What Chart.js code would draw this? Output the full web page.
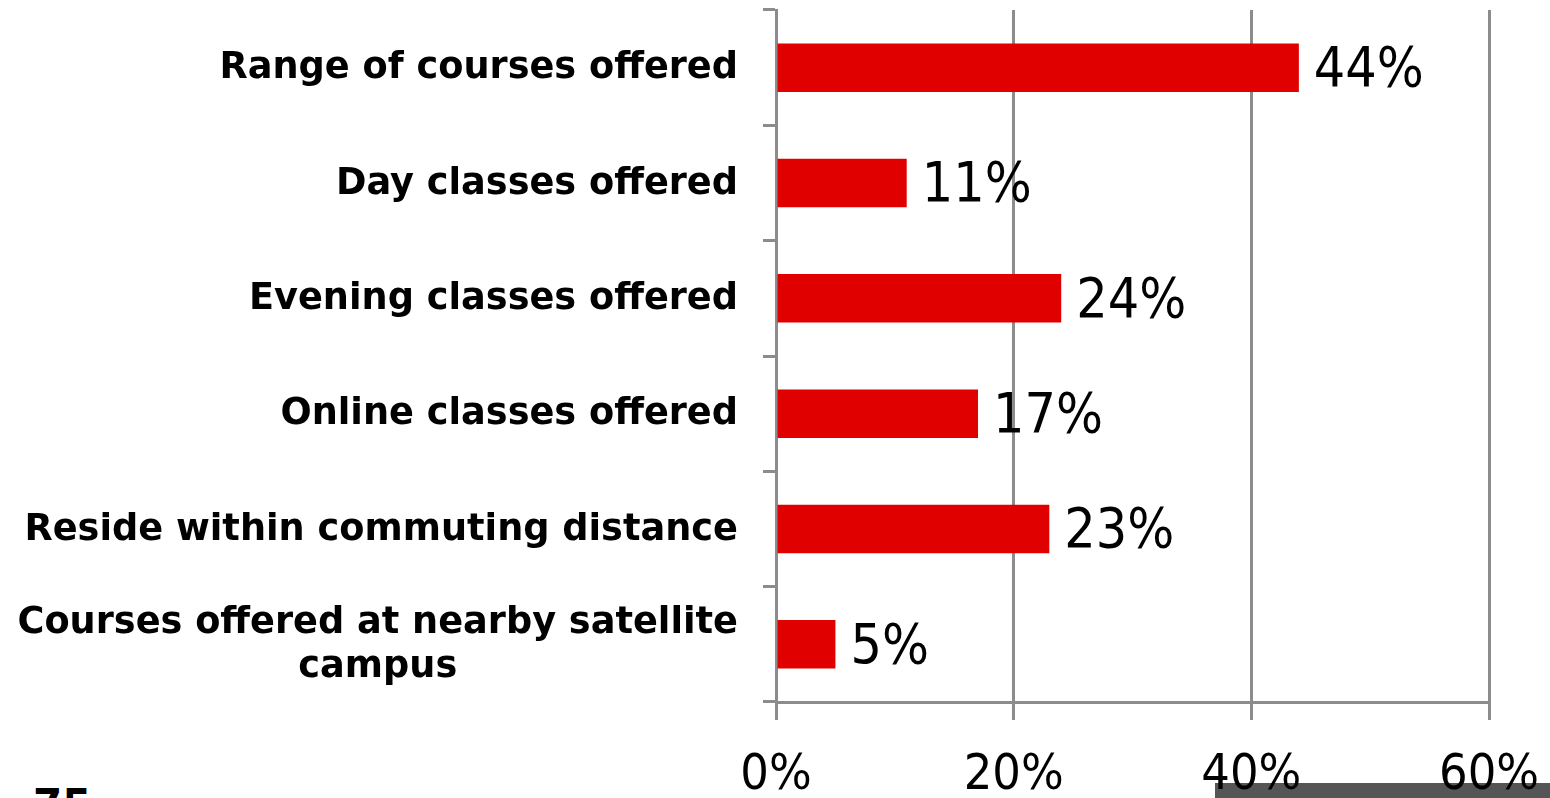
<!DOCTYPE html>
<html>
<head>
<meta charset="utf-8">
<script src="https://cdn.jsdelivr.net/npm/chart.js@4/dist/chart.umd.min.js"></script>
<style>
  html, body { margin:0; padding:0; background:#fff; }
  #wrap { position:relative; width:1550px; height:798px; overflow:hidden; }
  #band { position:absolute; left:1215px; top:783px; width:335px; height:15px; background:#555555; z-index:0; }
  #pg { position:absolute; left:33px; top:784px; font:bold 42px "DejaVu Sans", sans-serif; line-height:1; color:#000; z-index:0; }
  canvas { position:absolute; left:0; top:0; z-index:1; }
</style>
</head>
<body>
<div id="wrap">
  <div id="band"></div>
  <div id="pg">75</div>
  <canvas id="c" width="1550" height="798"></canvas>
</div>
<script>
const categories = [
  "Range of courses offered",
  "Day classes offered",
  "Evening classes offered",
  "Online classes offered",
  "Reside within commuting distance",
  ["Courses offered at nearby satellite", "campus"]
];
const values = [44, 11, 24, 17, 23, 5];
const xTicks = [0, 20, 40, 60];

const GRID = '#8c8c8c';
const NUMFONT = '"DejaVu Sans Condensed", "DejaVu Sans", sans-serif';

const yLabelPlugin = {
  id: 'yLabels',
  afterDraw(chart) {
    const ys = chart.scales.y;
    const ctx = chart.ctx;
    ctx.save();
    ctx.font = 'bold 36.7px "DejaVu Sans", sans-serif';
    ctx.fillStyle = '#000';
    ctx.textBaseline = 'middle';
    ctx.textAlign = 'center';
    const xr = ys.right - 13 - 25;
    categories.forEach((lab, i) => {
      const lines = Array.isArray(lab) ? lab : [lab];
      const yc = ys.getPixelForTick(i) + 1;
      const maxW = Math.max(...lines.map(l => ctx.measureText(l).width));
      lines.forEach((l, j) => {
        const y = yc + (j - (lines.length - 1) / 2) * 44;
        ctx.fillText(l, xr - maxW / 2, y);
      });
    });
    ctx.restore();
  }
};

const valueLabelPlugin = {
  id: 'valueLabels',
  afterDatasetsDraw(chart) {
    const ctx = chart.ctx;
    const meta = chart.getDatasetMeta(0);
    ctx.save();
    ctx.font = '55px ' + NUMFONT;
    ctx.fillStyle = '#000';
    ctx.textBaseline = 'middle';
    ctx.textAlign = 'left';
    meta.data.forEach((bar, i) => {
      ctx.fillText(values[i] + '%', bar.x + 15, bar.y + 4);
    });
    ctx.restore();
  }
};

new Chart(document.getElementById('c'), {
  type: 'bar',
  data: {
    labels: categories,
    datasets: [{
      data: values,
      backgroundColor: '#e10000',
      borderWidth: 0,
      barPercentage: 0.42,
      categoryPercentage: 1.0
    }]
  },
  options: {
    indexAxis: 'y',
    responsive: false,
    animation: false,
    layout: { padding: { top: 10, right: 61, bottom: 0, left: 0 } },
    plugins: { legend: { display: false }, tooltip: { enabled: false } },
    scales: {
      x: {
        min: 0, max: 60,
        afterBuildTicks(s) { s.ticks = xTicks.map(v => ({ value: v })); },
        ticks: {
          callback: v => v + '%',
          color: '#000',
          font: { family: NUMFONT, size: 50 },
          padding: 26,
          maxRotation: 0
        },
        grid: { color: GRID, lineWidth: 3, tickLength: 18, drawTicks: true },
        border: { display: true, color: GRID, width: 3 },
        afterFit(s) { s.height = 96; s.paddingLeft = 0; s.paddingRight = 0; }
      },
      y: {
        grid: { drawOnChartArea: false, drawTicks: true, tickLength: 13, color: GRID, lineWidth: 3, offset: true },
        border: { display: true, color: GRID, width: 3 },
        ticks: { color: 'rgba(0,0,0,0)', font: { size: 1 }, padding: 25 },
        afterFit(s) { s.width = 776; s.paddingTop = 0; s.paddingBottom = 0; }
      }
    }
  },
  plugins: [yLabelPlugin, valueLabelPlugin]
});
</script>
</body>
</html>
